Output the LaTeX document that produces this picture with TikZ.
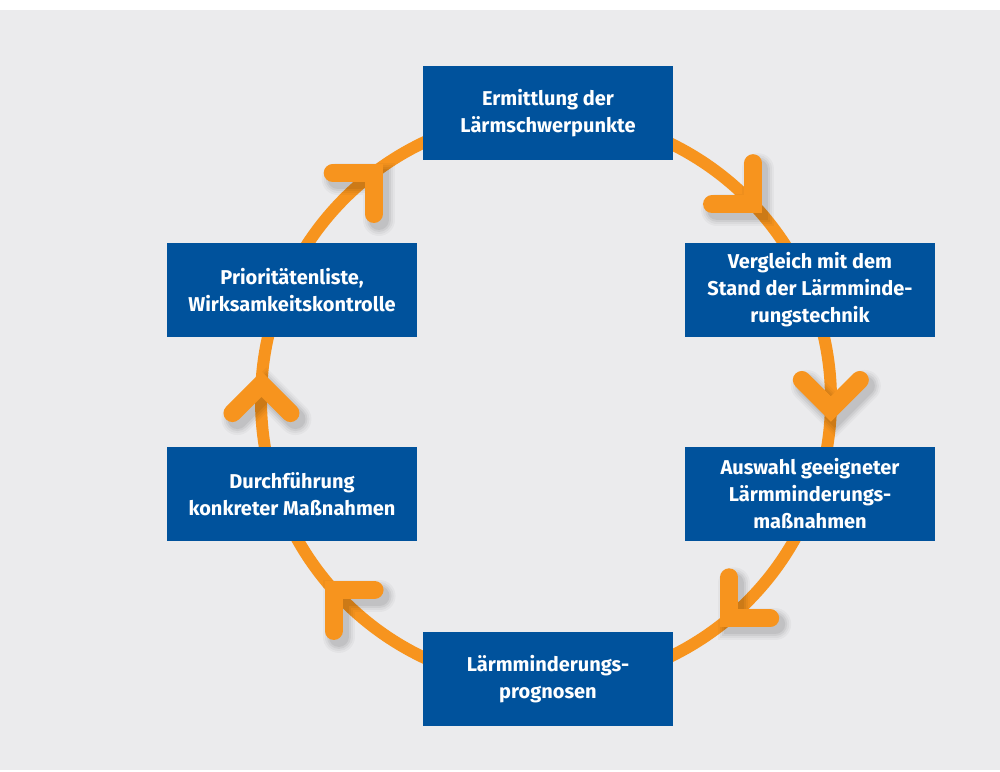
\documentclass[tikz,border=0pt]{standalone}
\usepackage{fontspec}
\setmainfont{Fira Sans}
\usetikzlibrary{calc}

\definecolor{boxblue}{RGB}{0,82,156}
\definecolor{ringorange}{RGB}{247,148,30}
\definecolor{bggray}{RGB}{235,235,237}

\begin{document}
\begin{tikzpicture}[x=1pt, y=1pt,
  box/.style={fill=boxblue, text=white, minimum width=250, minimum height=94,
    inner sep=0, align=center, font=\bfseries\fontsize{20}{27}\selectfont},
  ring/.style={draw=ringorange, line width=12},
  chevron/.style={draw=ringorange, line width=18, line cap=round}]

  % Background
  \fill[white] (0,0) rectangle (1000,771);
  \fill[bggray] (0,1) rectangle (1000,761);
  \useasboundingbox (0,0) rectangle (1000,771);

  % Ring
  \coordinate (c) at (546,371);
  \draw[ring] (c) circle (285);

  % Chevrons with soft shadow
  \foreach \a/\d in {127.2/45, 43.4/-45, -1.8/-90, -50/-135, 221.8/135, 176.8/90} {
    \foreach \w/\o in {32/0.03, 28/0.04, 24/0.05, 20/0.06}
      \draw[line width=\w, line cap=round, opacity=\o,
        shift={($(c)+(\a:285)+(5,-6)$)}, rotate=\d] (135:41) -- (0,0) -- (-135:41);
    \draw[chevron, shift={($(c)+(\a:285)$)}, rotate=\d] (135:41) -- (0,0) -- (-135:41);
  }

  % Boxes
  \node[box] (ermittlung) at (548,658) {Ermittlung der\\Lärmschwerpunkte};
  \node[box] (vergleich) at (810,481) {Vergleich mit dem\\Stand der Lärmminde-\\rungstechnik};
  \node[box] (auswahl) at (810,277) {Auswahl geeigneter\\Lärmminderungs-\\maßnahmen};
  \node[box] (prognose) at (548,92) {Lärmminderungs-\\prognosen};
  \node[box] (durchfuehrung) at (292,277) {Durchführung\\konkreter Maßnahmen};
  \node[box] (prioritaet) at (292,481) {Prioritätenliste,\\Wirksamkeitskontrolle};
\end{tikzpicture}
\end{document}
